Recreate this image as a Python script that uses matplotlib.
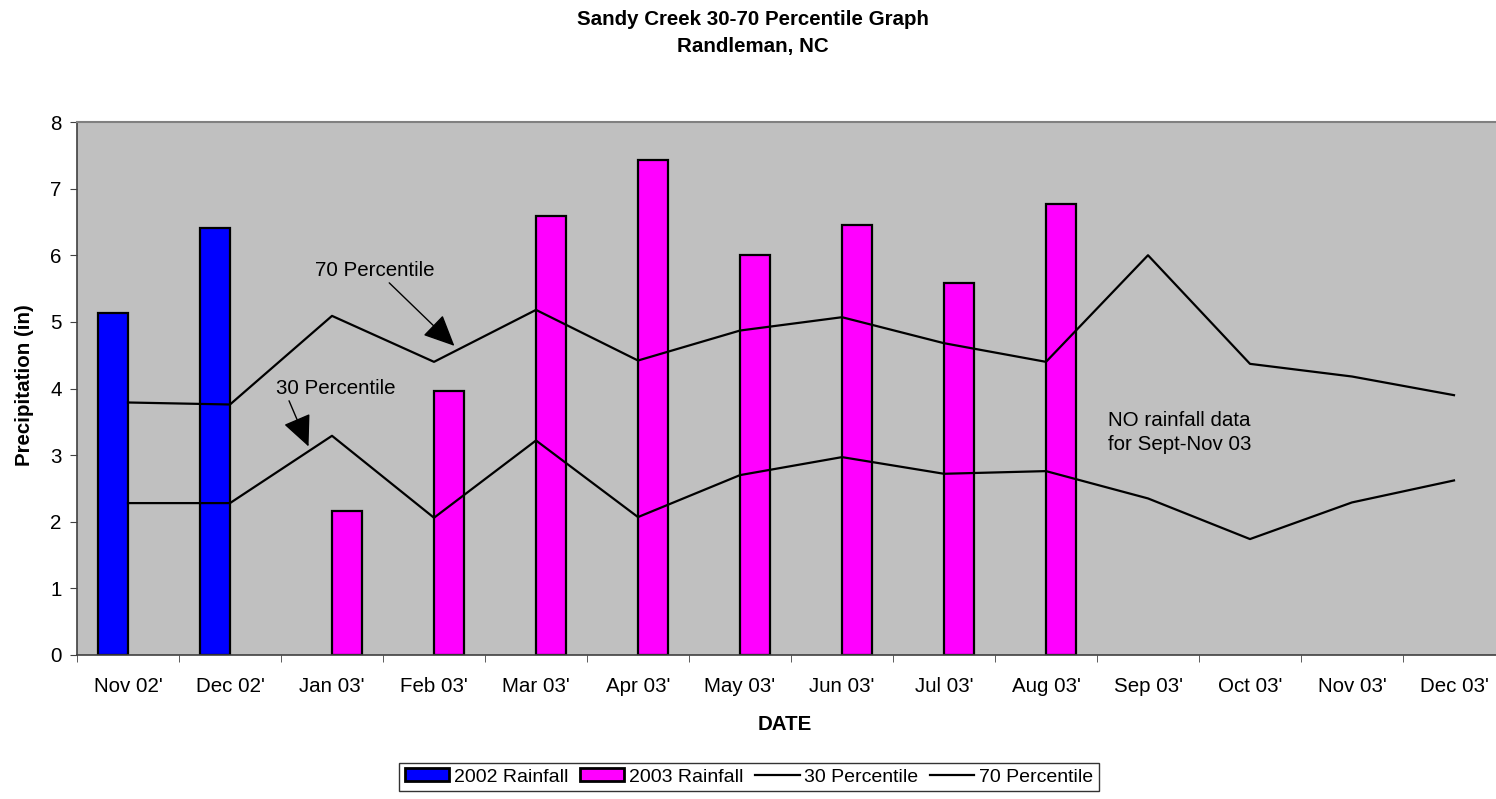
import matplotlib.pyplot as plt
import matplotlib.patches as mpatches
import matplotlib.lines as mlines
import numpy as np

plt.rcParams['font.family'] = ['Liberation Sans', 'DejaVu Sans']

months = ["Nov 02'", "Dec 02'", "Jan 03'", "Feb 03'", "Mar 03'", "Apr 03'", "May 03'",
          "Jun 03'", "Jul 03'", "Aug 03'", "Sep 03'", "Oct 03'", "Nov 03'", "Dec 03'"]
rain_2002 = [5.14, 6.41, None, None, None, None, None, None, None, None, None, None, None, None]
rain_2003 = [None, None, 2.16, 3.955, 6.59, 7.43, 6.01, 6.45, 5.58, 6.77, None, None, None, None]
pct30 = [2.28, 2.28, 3.29, 2.06, 3.22, 2.07, 2.70, 2.97, 2.72, 2.76, 2.35, 1.74, 2.29, 2.62]
pct70 = [3.79, 3.76, 5.09, 4.40, 5.18, 4.42, 4.87, 5.07, 4.68, 4.40, 6.00, 4.37, 4.18, 3.90]

W, H = 1496, 799
fig = plt.figure(figsize=(W / 100, H / 100), dpi=100)
# axis runs past the right edge of the picture, like the original
ax = fig.add_axes([77 / W, 1 - 655 / H, 1428 / W, 533 / H])
ax.set_facecolor('#C0C0C0')

x = np.arange(len(months))
bw = 0.29
y02 = np.array([np.nan if v is None else v for v in rain_2002])
y03 = np.array([np.nan if v is None else v for v in rain_2003])
ax.bar(x - bw / 2, y02, bw, color='#0000FF', edgecolor='black', linewidth=1.6, zorder=2)
ax.bar(x + bw / 2, y03, bw, color='#FF00FF', edgecolor='black', linewidth=1.6, zorder=2)
ax.plot(x, pct30, color='black', lw=1.6, zorder=3)
ax.plot(x, pct70, color='black', lw=1.6, zorder=3)

ax.set_xlim(-0.5, len(months) - 0.5)
ax.set_ylim(0, 8)
ax.set_yticks(range(9))
ax.set_xticks(x)
ax.set_xticklabels(months)
ax.set_xticks(np.arange(-0.5, len(months), 1), minor=True)
ax.tick_params(axis='x', which='major', length=0, pad=16, labelsize=14.8)
ax.tick_params(axis='x', which='minor', length=5, color='#404040')
ax.tick_params(axis='y', length=5, pad=6, labelsize=14.8, color='#404040')

for s in ['top', 'right']:
    ax.spines[s].set_color('#808080')
    ax.spines[s].set_linewidth(1.5)
for s in ['left', 'bottom']:
    ax.spines[s].set_color('#404040')
    ax.spines[s].set_linewidth(1.2)

ax.set_ylabel('Precipitation (in)', fontsize=14.8, fontweight='bold')
ax.set_xlabel('DATE', fontsize=14.8, fontweight='bold')
ax.xaxis.label.set_va('center')
ax.yaxis.label.set_va('center')
ax.xaxis.set_label_coords((785 - 77) / 1428, -(724 - 655) / 533)
ax.yaxis.set_label_coords(-(77 - 25) / 1428, (655 - 385) / 533)

head = '-|>,head_length=0.65,head_width=0.3'
ax.annotate('70 Percentile', xy=(3.2, 4.64), xytext=(1.83, 5.77), fontsize=14.8,
            va='center', ha='left',
            arrowprops=dict(arrowstyle=head, color='black', lw=1, mutation_scale=30,
                            shrinkA=0, shrinkB=0, relpos=(0.6, 0)))
ax.annotate('30 Percentile', xy=(1.77, 3.13), xytext=(1.45, 4.0), fontsize=14.8,
            va='center', ha='left',
            arrowprops=dict(arrowstyle=head, color='black', lw=1, mutation_scale=30,
                            shrinkA=0, shrinkB=0, relpos=(0.1, 0)))
ax.text(9.61, 3.34, 'NO rainfall data\nfor Sept-Nov 03', fontsize=14.8, va='center',
        ha='left', linespacing=1.3)

fig.text(753 / W, 1 - 33 / H, 'Sandy Creek 30-70 Percentile Graph\nRandleman, NC',
         ha='center', va='center', fontsize=14.8, fontweight='bold', linespacing=1.55)

handles = [
    mpatches.Patch(facecolor='#0000FF', edgecolor='black', linewidth=2, label='2002 Rainfall'),
    mpatches.Patch(facecolor='#FF00FF', edgecolor='black', linewidth=2, label='2003 Rainfall'),
    mlines.Line2D([], [], color='black', lw=1.6, label='30 Percentile'),
    mlines.Line2D([], [], color='black', lw=1.6, label='70 Percentile'),
]
leg = fig.legend(handles=handles, loc='center', bbox_to_anchor=(749 / W, 1 - 777 / H),
                 ncol=4, fontsize=14, frameon=True, fancybox=False, edgecolor='black',
                 handlelength=2.3, handleheight=0.63, handletextpad=0.25, columnspacing=0.57,
                 borderpad=0.3, borderaxespad=0)
leg.get_frame().set_linewidth(1)

fig.savefig('out.png', dpi=100)
